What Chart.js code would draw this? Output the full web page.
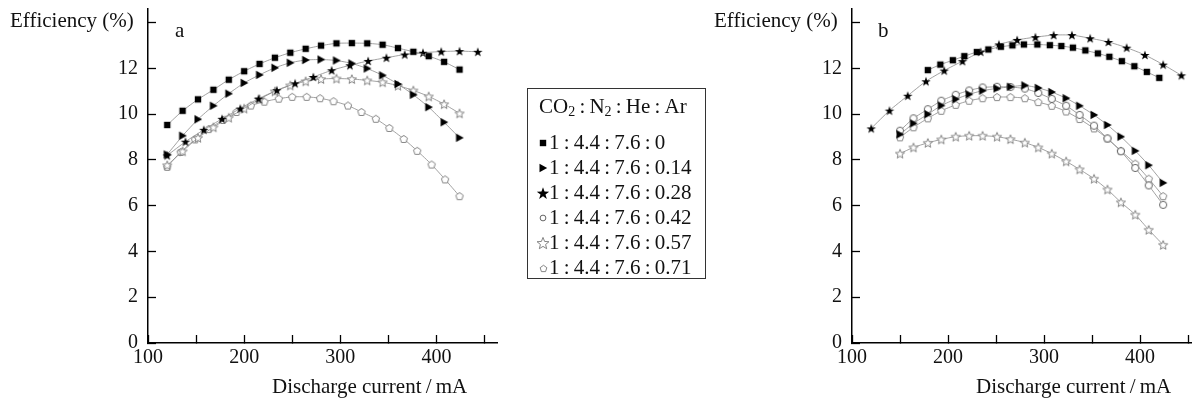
<!DOCTYPE html>
<html>
<head>
<meta charset="utf-8">
<script src="https://cdn.jsdelivr.net/npm/chart.js@4.4.0/dist/chart.umd.min.js"></script>
<style>
  body { margin: 0; background: #fff; }
  #wrap { position: relative; width: 1198px; height: 407px; font-family: "Liberation Serif", "DejaVu Serif", serif; color: #111; }
  canvas.plot { position: absolute; top: 0; }
  .txt { position: absolute; font-size: 21px; white-space: nowrap; line-height: 1; }
  #legend { position: absolute; left: 527px; top: 88px; width: 177px; height: 189px; border: 1px solid #333; }
  #legend .row { position: absolute; left: 0; font-size: 21px; line-height: 1; white-space: nowrap; }
  #legend .row canvas { position: absolute; }
  sub { font-size: 14px; vertical-align: -3px; }
</style>
</head>
<body>
<div id="wrap">
  <canvas id="chartA" class="plot" width="510" height="407" style="left:0"></canvas>
  <canvas id="chartB" class="plot" width="494" height="407" style="left:704px"></canvas>
  <div class="txt" style="left:10px; top:10px">Efficiency (%)</div>
  <div class="txt" style="left:714px; top:10px">Efficiency (%)</div>
  <div class="txt" style="left:175px; top:20px">a</div>
  <div class="txt" style="left:878px; top:20px">b</div>
  <div class="txt" style="left:272px; top:376px">Discharge current&#8201;/&#8201;mA</div>
  <div class="txt" style="left:976px; top:376px">Discharge current&#8201;/&#8201;mA</div>
  <div id="legend"></div>
</div>
<script>
// gas mixture ratios (legend)
const mixtures = ["1 : 4.4 : 7.6 : 0", "1 : 4.4 : 7.6 : 0.14", "1 : 4.4 : 7.6 : 0.28",
                  "1 : 4.4 : 7.6 : 0.42", "1 : 4.4 : 7.6 : 0.57", "1 : 4.4 : 7.6 : 0.71"];
const markerKinds = ["square", "triangle", "star", "circle", "openStar", "pentagon"];

// panel a  (discharge current mA, efficiency %)
const curA16 = [120, 136, 152, 168, 184, 200, 216, 232, 248, 264, 280, 296, 312, 328, 344, 360, 376, 392, 408, 424];
const curA19 = [120, 139, 158, 177, 196, 215, 234, 253, 272, 291, 310, 329, 348, 367, 386, 405, 424, 443];
const curA14 = [120, 134, 149, 163, 178, 192, 207, 221, 236, 250, 265, 279, 293, 308, 322, 337, 351, 366, 380, 395, 409, 424];
const effA_0    = [9.53, 10.15, 10.65, 11.07, 11.51, 11.88, 12.2, 12.47, 12.69, 12.86, 13.0, 13.1, 13.11, 13.1, 13.04, 12.89, 12.73, 12.54, 12.29, 11.95];
const effA_014  = [8.24, 9.06, 9.78, 10.37, 10.9, 11.37, 11.72, 12.03, 12.25, 12.37, 12.39, 12.35, 12.22, 12.0, 11.7, 11.32, 10.85, 10.31, 9.65, 8.97];
const effA_028  = [8.2, 8.8, 9.32, 9.8, 10.25, 10.68, 11.05, 11.35, 11.63, 11.92, 12.14, 12.33, 12.47, 12.61, 12.69, 12.74, 12.76, 12.73];
const effA_057  = [7.77, 8.38, 8.97, 9.43, 9.85, 10.25, 10.66, 11.0, 11.26, 11.44, 11.54, 11.56, 11.54, 11.48, 11.4, 11.25, 11.04, 10.78, 10.44, 10.04];
const effA_071  = [7.7, 8.35, 8.9, 9.35, 9.75, 10.1, 10.38, 10.55, 10.68, 10.76, 10.76, 10.7, 10.57, 10.38, 10.1, 9.8, 9.4, 8.92, 8.4, 7.8, 7.15, 6.42];

// panel b
const curB13 = [179, 192, 205, 217, 230, 242, 255, 267, 279, 293, 306, 318, 330, 343, 356, 368, 381, 394, 407, 420];
const curB19 = [120, 139, 158, 177, 196, 215, 234, 253, 272, 291, 310, 329, 348, 367, 386, 405, 424, 443];
const curB14 = [150, 164, 179, 193, 208, 222, 236, 251, 265, 280, 294, 308, 323, 337, 352, 366, 380, 395, 409, 424];
const effB_0    = [11.93, 12.17, 12.36, 12.54, 12.72, 12.83, 12.95, 13.01, 13.05, 13.05, 13.02, 12.98, 12.91, 12.79, 12.66, 12.51, 12.32, 12.1, 11.85, 11.59];
const effB_014  = [9.12, 9.6, 10.0, 10.38, 10.66, 10.87, 11.03, 11.13, 11.2, 11.26, 11.15, 10.97, 10.7, 10.37, 9.97, 9.53, 9.02, 8.4, 7.77, 7.0];
const effB_028  = [9.38, 10.16, 10.81, 11.44, 11.91, 12.32, 12.73, 13.05, 13.25, 13.37, 13.46, 13.46, 13.32, 13.16, 12.91, 12.59, 12.17, 11.7];
const effB_042  = [9.28, 9.82, 10.22, 10.59, 10.85, 11.04, 11.17, 11.2, 11.19, 11.12, 10.93, 10.67, 10.37, 9.97, 9.5, 8.94, 8.38, 7.65, 6.89, 6.04];
const effB_057  = [8.28, 8.55, 8.75, 8.9, 9.02, 9.06, 9.06, 9.02, 8.91, 8.76, 8.55, 8.28, 7.94, 7.59, 7.18, 6.71, 6.15, 5.61, 4.95, 4.29];
const effB_071  = [8.99, 9.43, 9.82, 10.15, 10.41, 10.59, 10.7, 10.75, 10.75, 10.7, 10.53, 10.37, 10.12, 9.79, 9.38, 8.94, 8.4, 7.84, 7.18, 6.42];

const yTickLabels = [0, 2, 4, 6, 8, 10, 12];
const xTickLabels = [100, 200, 300, 400];

function starPath(g, cx, cy, R, r) {
  g.beginPath();
  for (let i = 0; i < 10; i++) {
    const rad = i % 2 ? r : R;
    const a = -Math.PI / 2 + i * Math.PI / 5;
    g.lineTo(cx + rad * Math.cos(a), cy + rad * Math.sin(a));
  }
  g.closePath();
}

// draw a marker symbol into a small canvas, used as pointStyle
function marker(kind, k) {
  k = k || 1;
  const s = Math.ceil(12 * k), c = document.createElement("canvas");
  c.width = s; c.height = s;
  const g = c.getContext("2d"), m = s / 2;
  g.lineWidth = 0.9;
  if (kind === "square") {
    g.fillStyle = "#000";
    g.fillRect(m - 3.2 * k, m - 3.2 * k, 6.4 * k, 6.4 * k);
  } else if (kind === "triangle") {
    g.fillStyle = "#000";
    g.beginPath();
    g.moveTo(m - 3.5 * k, m - 4.2 * k); g.lineTo(m + 4.2 * k, m); g.lineTo(m - 3.5 * k, m + 4.2 * k);
    g.closePath(); g.fill();
  } else if (kind === "star") {
    g.fillStyle = "#000";
    starPath(g, m, m + 0.5 * k, 5 * k, 2 * k); g.fill();
  } else if (kind === "circle") {
    g.fillStyle = "#fff"; g.strokeStyle = "#555";
    g.beginPath(); g.arc(m, m, 3.6 * k, 0, Math.PI * 2); g.fill(); g.stroke();
  } else if (kind === "openStar") {
    g.fillStyle = "#fff"; g.strokeStyle = "#777";
    starPath(g, m, m + 0.5 * k, 4.8 * k, 2.1 * k); g.fill(); g.stroke();
  } else if (kind === "pentagon") {
    g.fillStyle = "#fff"; g.strokeStyle = "#777";
    g.beginPath();
    for (let i = 0; i < 5; i++) {
      const a = -Math.PI / 2 + i * 2 * Math.PI / 5;
      g.lineTo(m + 3.9 * k * Math.cos(a), m + 0.3 * k + 3.9 * k * Math.sin(a));
    }
    g.closePath(); g.fill(); g.stroke();
  }
  return c;
}

function series(xs, ys, kind) {
  return {
    data: xs.map((x, i) => ({ x: x, y: ys[i] })),
    pointStyle: marker(kind),
    borderColor: "#8a8a8a",
    borderWidth: 0.8,
    tension: 0.2,
    fill: false
  };
}

function onTick(list) {
  return v => {
    const r = Math.round(v);
    return Math.abs(v - r) < 1e-6 && list.includes(r) ? String(r) : "";
  };
}

function panelOptions(xMax, padRight) {
  return {
    responsive: false,
    animation: false,
    layout: { padding: { left: 0, top: 9, right: padRight, bottom: 0 } },
    plugins: { legend: { display: false }, tooltip: { enabled: false } },
    scales: {
      x: {
        type: "linear", min: 100, max: xMax,
        afterFit: s => { s.height = 64; s.paddingLeft = 0; s.paddingRight = 0; },
        border: { color: "#000", width: 1.5 },
        grid: { drawOnChartArea: false, drawTicks: true, tickLength: -8, color: "#000", tickWidth: 1.3 },
        ticks: {
          stepSize: 50, includeBounds: false, maxRotation: 0, autoSkip: false, padding: 11,
          color: "#111", font: { family: "Liberation Serif", size: 20 },
          callback: onTick(xTickLabels)
        }
      },
      y: {
        min: 0, max: 14.6,
        afterFit: s => { s.width = 148; s.paddingTop = 0; s.paddingBottom = 0; },
        border: { color: "#000", width: 1.5 },
        grid: { drawOnChartArea: false, drawTicks: true, tickLength: -8, color: "#000", tickWidth: 1.3 },
        ticks: {
          stepSize: 2, includeBounds: false, padding: 18,
          color: "#111", font: { family: "Liberation Serif", size: 20 },
          callback: onTick(yTickLabels)
        }
      }
    }
  };
}

new Chart(document.getElementById("chartA").getContext("2d"), {
  type: "line",
  data: {
    datasets: [
      series(curA16, effA_0, "square"),
      series(curA16, effA_014, "triangle"),
      series(curA19, effA_028, "star"),
      series(curA16, effA_057, "openStar"),
      series(curA14, effA_071, "pentagon")
    ]
  },
  options: panelOptions(463, 13)
});

new Chart(document.getElementById("chartB").getContext("2d"), {
  type: "line",
  data: {
    datasets: [
      series(curB13, effB_0, "square"),
      series(curB14, effB_014, "triangle"),
      series(curB19, effB_028, "star"),
      series(curB14, effB_042, "circle"),
      series(curB14, effB_057, "openStar"),
      series(curB14, effB_071, "pentagon")
    ]
  },
  options: panelOptions(453, 7)
});

// legend box
const legend = document.getElementById("legend");
const head = document.createElement("div");
head.className = "row";
head.style.left = "11px"; head.style.top = "7px";
head.innerHTML = "CO<sub>2</sub>&#8201;:&#8201;N<sub>2</sub>&#8201;:&#8201;He&#8201;:&#8201;Ar";
legend.appendChild(head);
const legendScale = [1, 1, 1.3, 0.8, 1.3, 0.9];
mixtures.forEach((label, i) => {
  const row = document.createElement("div");
  row.className = "row";
  row.style.top = (43 + i * 25) + "px";
  const sym = marker(markerKinds[i], legendScale[i]);
  sym.style.left = (15 - sym.width / 2) + "px";
  sym.style.top = (11 - sym.height / 2) + "px";
  row.appendChild(sym);
  const t = document.createElement("span");
  t.textContent = label.replace(/ : /g, "\u2009:\u2009");
  t.style.position = "absolute"; t.style.left = "21px"; t.style.top = "0px";
  row.appendChild(t);
  legend.appendChild(row);
});
</script>
</body>
</html>
